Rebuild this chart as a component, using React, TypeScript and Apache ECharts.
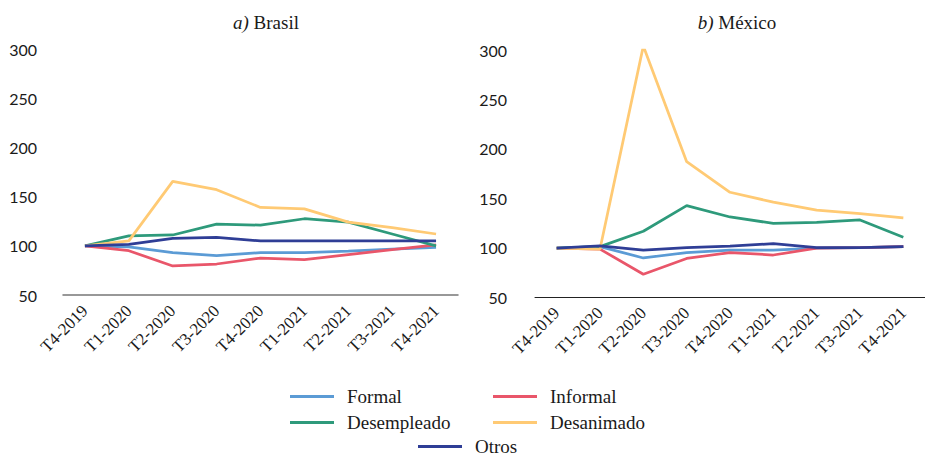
import React, { useEffect, useRef } from "react";
import * as echarts from "echarts";

const categories = ["T4-2019", "T1-2020", "T2-2020", "T3-2020", "T4-2020", "T1-2021", "T2-2021", "T3-2021", "T4-2021"];
const seriesNames = ["Formal", "Informal", "Desempleado", "Desanimado", "Otros"];
const seriesColors = ["#5B9BD5", "#E9566A", "#2E9A7B", "#FFCA74", "#2F3E96"];

const brasilFormal = [100, 99, 93, 90, 93, 93, 94.5, 96.5, 98.5];
const brasilInformal = [100, 95, 79.5, 81.5, 87.5, 86, 91, 96, 101];
const brasilDesempleado = [100, 110, 111, 122, 121, 127.5, 124, 112, 100];
const brasilDesanimado = [100, 105, 165.5, 157, 139, 137.5, 124, 118.5, 112];
const brasilOtros = [100, 101.5, 107.5, 108.5, 105, 105, 105, 105, 105];

const mexicoFormal = [99.5, 101, 89.5, 95, 97.5, 97.5, 99.5, 100, 101];
const mexicoInformal = [99.5, 98.5, 73, 89, 95, 92.5, 99.5, 100, 101];
const mexicoDesempleado = [99.5, 101, 116.5, 142.5, 131, 124.5, 125.5, 128, 110.5];
const mexicoDesanimado = [99.5, 98.5, 304, 187, 156, 146, 138, 134.5, 130];
const mexicoOtros = [99.5, 101.8, 97.5, 100, 101.5, 104, 100, 100, 101];

const yMin = 50;
const yMax = 300;
const yInterval = 50;

const brasilData = [brasilFormal, brasilInformal, brasilDesempleado, brasilDesanimado, brasilOtros];
const mexicoData = [mexicoFormal, mexicoInformal, mexicoDesempleado, mexicoDesanimado, mexicoOtros];

const serif = "Liberation Serif";
const sans = "Lato";

export default function App() {
  const ref = useRef<HTMLDivElement>(null);
  useEffect(() => {
    document.body.style.margin = "0";
    if (!ref.current) return;
    const chart = echarts.init(ref.current, null, { renderer: "svg" });

    const legendPos = [
      { left: 290, top: 387 },
      { left: 493, top: 387 },
      { left: 290, top: 413 },
      { left: 493, top: 413 },
      { left: 418, top: 437 },
    ];

    const xAxisCommon = (axisColor: string, w: number) => ({
      type: "category" as const,
      data: categories,
      boundaryGap: true,
      axisLine: { show: true, lineStyle: { color: axisColor, width: w } },
      axisTick: { show: false },
      axisLabel: {
        rotate: 45,
        interval: 0,
        fontFamily: serif,
        fontSize: 17,
        color: "#1a1a1a",
        margin: 13,
      },
      splitLine: { show: false },
    });

    const yAxisCommon = (margin: number) => ({
      type: "value" as const,
      min: yMin,
      max: yMax,
      interval: yInterval,
      axisLine: { show: false },
      axisTick: { show: false },
      splitLine: { show: false },
      axisLabel: { fontFamily: sans, fontSize: 16, color: "#1a1a1a", margin },
    });

    const series: any[] = [];
    seriesNames.forEach((name, i) => {
      series.push({
        name, type: "line", xAxisIndex: 0, yAxisIndex: 0, data: brasilData[i], symbol: "none",
        lineStyle: { color: seriesColors[i], width: 2.75 }, itemStyle: { color: seriesColors[i] },
        z: i === 4 ? 3 : 2,
      });
    });
    seriesNames.forEach((name, i) => {
      series.push({
        name, type: "line", xAxisIndex: 1, yAxisIndex: 1, data: mexicoData[i], symbol: "none",
        lineStyle: { color: seriesColors[i], width: 2.75 }, itemStyle: { color: seriesColors[i] },
        z: i === 4 ? 3 : 2,
      });
    });

    const titleStyle = {
      fontFamily: serif,
      fontWeight: "normal" as const,
      fontSize: 19,
      color: "#1a1a1a",
      rich: {
        i: { fontFamily: serif, fontStyle: "italic" as const, fontWeight: "normal" as const, fontSize: 19, color: "#1a1a1a" },
        n: { fontFamily: serif, fontStyle: "normal" as const, fontWeight: "normal" as const, fontSize: 19, color: "#1a1a1a" },
      },
    };

    chart.setOption({
      animation: false,
      backgroundColor: "#ffffff",
      title: [
        { text: "{i|a)} {n|Brasil}", left: 261, textAlign: "center", top: 8, textStyle: titleStyle },
        { text: "{i|b)} {n|México}", left: 732, textAlign: "center", top: 8, textStyle: titleStyle },
      ],
      legend: seriesNames.map((name, i) => ({
        data: [name],
        left: legendPos[i].left,
        top: legendPos[i].top,
        padding: 0,
        icon: "rect",
        itemWidth: 44,
        itemHeight: 3,
        itemGap: 0,
        textStyle: { fontFamily: serif, fontSize: 19, lineHeight: 18, color: "#1a1a1a", padding: [0, 0, 0, 8] },
      })),
      grid: [
        { left: 63, top: 49, width: 395, height: 246 },
        { left: 535, top: 50, width: 394, height: 247 },
      ],
      xAxis: [
        { ...xAxisCommon("#777777", 1.5), gridIndex: 0 },
        { ...xAxisCommon("#222222", 1), gridIndex: 1 },
      ],
      yAxis: [
        { ...yAxisCommon(26), gridIndex: 0 },
        { ...yAxisCommon(28), gridIndex: 1 },
      ],
      series,
    });
    return () => chart.dispose();
  }, []);
  return <div ref={ref} style={{ width: 925, height: 456 }} />;
}
